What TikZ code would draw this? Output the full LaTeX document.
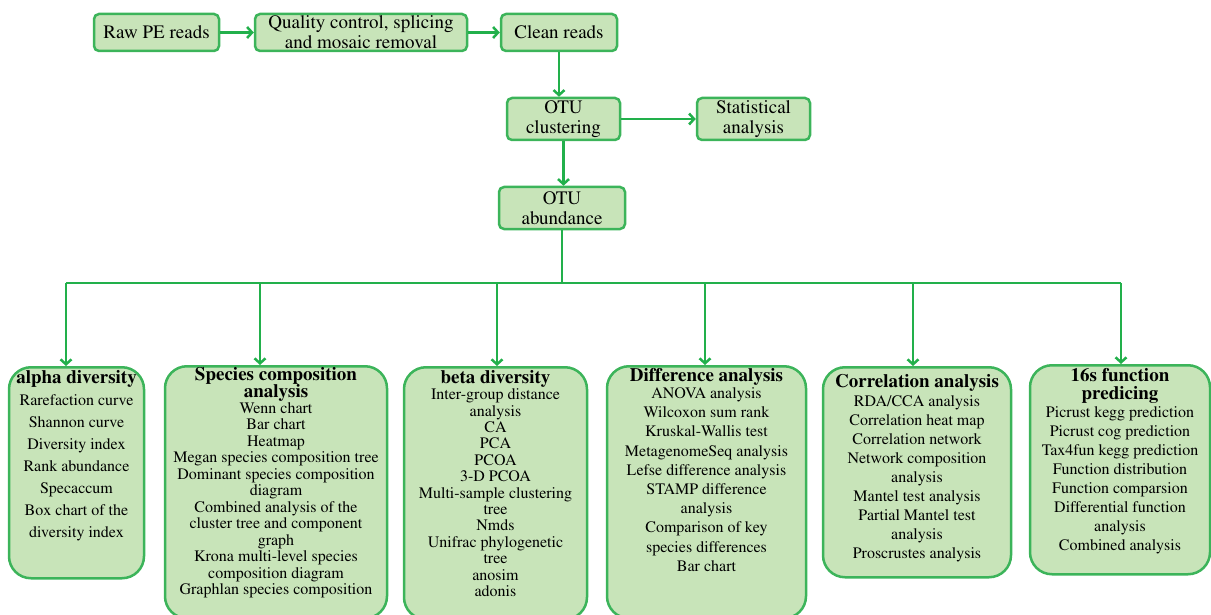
\documentclass[tikz,border=0pt]{standalone}
\usepackage[T1]{fontenc}
\usepackage{mathptmx}
\usetikzlibrary{positioning,arrows.meta}
\definecolor{boxgreen}{RGB}{200,228,185}
\definecolor{linegreen}{RGB}{60,180,90}
\definecolor{arrowgreen}{RGB}{34,176,75}
\newcommand{\tightlines}{\setlength{\lineskiplimit}{-6pt}}

\begin{document}
\begin{tikzpicture}[x=1pt, y=-1pt,
    stepnode/.style={rectangle, rounded corners=5pt, draw=linegreen, fill=boxgreen, line width=2.5pt, align=center, inner sep=0pt, font=\fontsize{19}{20}\selectfont},
    bignode/.style={rectangle, rounded corners=22pt, draw=linegreen, fill=boxgreen, line width=2.5pt, anchor=north, inner sep=0pt},
    listnode/.style={anchor=north, align=center, inner sep=0pt},
    flow/.style={draw=arrowgreen, line width=2.5pt, -{Straight Barb[length=5pt,width=11pt]}},
    trunk/.style={draw=arrowgreen, line width=2.5pt},]
    \useasboundingbox (0,0) rectangle (1211,615);
    % nodes
    \node[stepnode, minimum width=125pt, minimum height=37pt] (Raw)   at (156.5,32.5) {Raw PE reads};
    \node[stepnode, minimum width=212pt, minimum height=37pt] (QC)    at (361,32.5)   {Quality control, splicing\\and mosaic removal};
    \node[stepnode, minimum width=116pt, minimum height=37pt] (Clean) at (559,32.5)   {Clean reads};
    \node[stepnode, minimum width=113pt, minimum height=42pt] (OTUc)  at (563.5,119)  {OTU\\clustering};
    \node[stepnode, minimum width=113pt, minimum height=42pt] (Stat)  at (753.5,119)  {Statistical\\analysis};
    \node[stepnode, minimum width=126pt, minimum height=42pt] (OTUa)  at (562,208)    {OTU\\abundance};
    % boxes
    \node[bignode, minimum width=135pt, minimum height=211pt] (Alpha)   at (76.5,366)  {};
    \node[bignode, minimum width=222pt, minimum height=252pt] (Species) at (276,365)   {};
    \node[bignode, minimum width=183pt, minimum height=252pt] (Beta)    at (495.5,366) {};
    \node[bignode, minimum width=199pt, minimum height=252pt] (Diff)    at (706.5,365) {};
    \node[bignode, minimum width=188pt, minimum height=210pt] (Corr)    at (917,366)   {};
    \node[bignode, minimum width=180pt, minimum height=209pt] (Func)    at (1120,364)  {};
    % box texts
    \node[listnode, font=\fontsize{16}{22}\selectfont] (AlphaText) at ([yshift=-4pt]Alpha.north)
        {{\bfseries\fontsize{19}{22}\selectfont alpha diversity}\\Rarefaction curve\\Shannon curve\\Diversity index\\Rank abundance\\Specaccum\\Box chart of the\\diversity index};
    \node[listnode, font=\fontsize{16}{16.5}\selectfont\tightlines] (SpeciesText) at ([yshift=-2pt]Species.north)
        {{\bfseries\fontsize{19}{16.5}\selectfont Species composition}\\[1pt]{\bfseries\fontsize{19}{16.5}\selectfont analysis}\\[-1pt]Wenn chart\\Bar chart\\Heatmap\\Megan species composition tree\\Dominant species composition\\diagram\\Combined analysis of the\\cluster tree and component\\graph\\Krona multi-level species\\composition diagram\\Graphlan species composition};
    \node[listnode, font=\fontsize{16}{16.4}\selectfont\tightlines] (BetaText) at ([yshift=-4pt]Beta.north)
        {{\bfseries\fontsize{19}{16.4}\selectfont beta diversity}\\Inter-group distance\\analysis\\CA\\PCA\\PCOA\\3-D PCOA\\Multi-sample clustering\\tree\\Nmds\\Unifrac phylogenetic\\tree\\anosim\\adonis};
    \node[listnode, font=\fontsize{16}{19.2}\selectfont] (DiffText) at ([yshift=-3pt]Diff.north)
        {{\bfseries\fontsize{19}{19.2}\selectfont Difference analysis}\\[-2pt]ANOVA analysis\\Wilcoxon sum rank\\Kruskal-Wallis test\\MetagenomeSeq analysis\\Lefse difference analysis\\STAMP difference\\analysis\\Comparison of key\\species differences\\Bar chart};
    \node[listnode, font=\fontsize{16}{19}\selectfont] (CorrText) at ([yshift=-8pt]Corr.north)
        {{\bfseries\fontsize{19}{19}\selectfont Correlation analysis}\\RDA/CCA analysis\\Correlation heat map\\Correlation network\\Network composition\\analysis\\Mantel test analysis\\Partial Mantel test\\analysis\\Proscrustes analysis};
    \node[listnode, font=\fontsize{16}{19}\selectfont\tightlines] (FuncText) at ([yshift=-4pt]Func.north)
        {{\bfseries\fontsize{19}{19}\selectfont 16s function}\\[-1pt]{\bfseries\fontsize{19}{19}\selectfont predicing}\\[-1pt]Picrust kegg prediction\\Picrust cog prediction\\Tax4fun kegg prediction\\Function distribution\\Function comparsion\\Differential function\\analysis\\Combined analysis};
    % lines
    \draw[flow] (Raw) -- (QC);
    \draw[flow] (QC) -- (Clean);
    \draw[flow] (Clean.south) -- (Clean.south |- OTUc.north);
    \draw[flow] (OTUc) -- (Stat);
    \draw[flow] (OTUc.south) -- (OTUc.south |- OTUa.north);
    \coordinate (b1) at (66,283);
    \coordinate (b2) at (260,283);
    \coordinate (b3) at (497,283);
    \coordinate (b4) at (705,283);
    \coordinate (b5) at (913,283);
    \coordinate (b6) at (1121,283);
    \draw[trunk] (OTUa.south) -- (OTUa.south |- b1);
    \draw[trunk] (b1) -- (b6);
    \foreach \b/\n in {b1/Alpha, b2/Species, b3/Beta, b4/Diff, b5/Corr, b6/Func}
        \draw[flow] (\b) -- (\b |- \n.north);
\end{tikzpicture}
\end{document}
